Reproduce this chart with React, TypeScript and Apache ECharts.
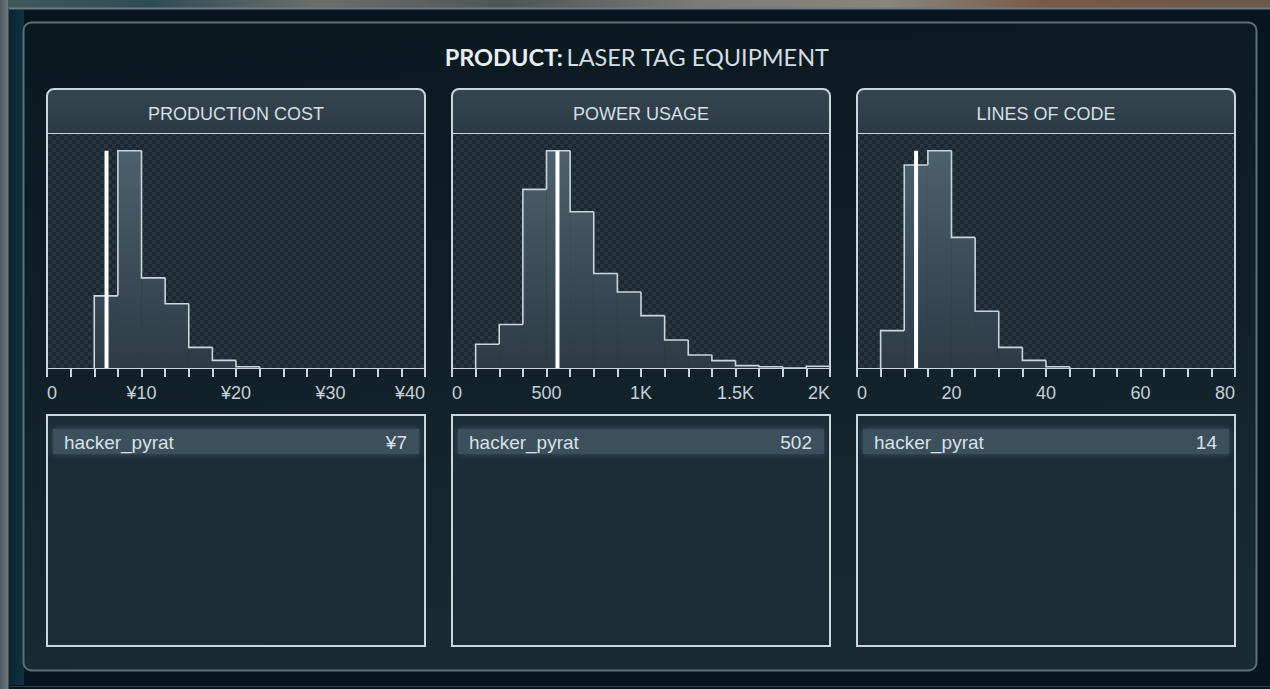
import React, { useEffect, useRef } from "react";
import * as echarts from "echarts";

// ---------- data ----------
const productLabel = "PRODUCT:";
const productName = "LASER TAG EQUIPMENT";
const panelTitles = ["PRODUCTION COST", "POWER USAGE", "LINES OF CODE"];

const costBinStarts = [5, 7.5, 10, 12.5, 15, 17.5, 20];
const costBinWidth = 2.5;
const costCounts = [33.2, 100, 41.5, 29.6, 9.5, 3.5, 0.6];
const costMarker = 6.3;
const costAxisMax = 40;
const costTickStep = 2.5;
const costLabelValues = [0, 10, 20, 30, 40];
const costLabelTexts = ["0", "¥10", "¥20", "¥30", "¥40"];

const powerBinStarts = [125, 250, 375, 500, 625, 750, 875, 1000, 1125, 1250, 1375, 1500, 1625, 1750, 1875];
const powerBinWidth = 125;
const powerCounts = [10.9, 20.0, 82.2, 100, 71.9, 43.5, 35.0, 24.1, 12.9, 6.0, 3.4, 1.1, 0.6, 0, 0.8];
const powerMarker = 558;
const powerAxisMax = 2000;
const powerTickStep = 125;
const powerLabelValues = [0, 500, 1000, 1500, 2000];
const powerLabelTexts = ["0", "500", "1K", "1.5K", "2K"];

const locBinStarts = [5, 10, 15, 20, 25, 30, 35, 40];
const locBinWidth = 5;
const locCounts = [17.2, 93.4, 100, 60.1, 26.1, 9.5, 3.5, 0.6];
const locMarker = 12.5;
const locAxisMax = 80;
const locTickStep = 5;
const locLabelValues = [0, 20, 40, 60, 80];
const locLabelTexts = ["0", "20", "40", "60", "80"];

const playerNames = ["hacker_pyrat", "hacker_pyrat", "hacker_pyrat"];
const playerValues = ["¥7", "502", "14"];

// ---------- layout ----------
const W = 1270;
const H = 689;
const PANEL_X = [47, 452, 857];
const PANEL_W = 378;
const HEADER_TOP = 89;
const GRID_TOP = 134;
const GRID_BOTTOM = 368;
const Y_MAX = 107.7;
const LINE = "#c9d6dc";
const FONT = "Liberation Sans";

function makeChecker(): string {
  const c = document.createElement("canvas");
  c.width = 8;
  c.height = 8;
  const ctx = c.getContext("2d");
  if (!ctx) return "";
  ctx.fillStyle = "#1c2830";
  ctx.fillRect(0, 0, 8, 8);
  ctx.fillStyle = "#28363f";
  ctx.fillRect(0, 0, 4, 4);
  ctx.fillRect(4, 4, 4, 4);
  return c.toDataURL();
}

export default function App() {
  const ref = useRef<HTMLDivElement>(null);

  useEffect(() => {
    if (!ref.current) return;
    const chart = echarts.init(ref.current, null, { renderer: "svg" });
    const checker = makeChecker();

    const panels = [
      { starts: costBinStarts, width: costBinWidth, counts: costCounts, marker: costMarker, max: costAxisMax, step: costTickStep, lv: costLabelValues, lt: costLabelTexts },
      { starts: powerBinStarts, width: powerBinWidth, counts: powerCounts, marker: powerMarker, max: powerAxisMax, step: powerTickStep, lv: powerLabelValues, lt: powerLabelTexts },
      { starts: locBinStarts, width: locBinWidth, counts: locCounts, marker: locMarker, max: locAxisMax, step: locTickStep, lv: locLabelValues, lt: locLabelTexts },
    ];

    const grids: any[] = [];
    const xAxes: any[] = [];
    const yAxes: any[] = [];
    const series: any[] = [];
    const graphics: any[] = [];

    // page background
    graphics.push(
      { type: "rect", z: 0, shape: { x: 0, y: 0, width: W, height: H }, style: { fill: "#07161e" } },
      {
        type: "rect", z: 0, shape: { x: 0, y: 0, width: W, height: 8 },
        style: {
          fill: new echarts.graphic.LinearGradient(0, 0, 1, 0, [
            { offset: 0, color: "#3f5a5c" }, { offset: 0.12, color: "#2e4c55" }, { offset: 0.25, color: "#6c6e6a" },
            { offset: 0.4, color: "#4f5556" }, { offset: 0.55, color: "#7b7b76" }, { offset: 0.7, color: "#8a857e" },
            { offset: 0.82, color: "#7a5a46" }, { offset: 1, color: "#6a584a" },
          ]),
        },
      },
      { type: "rect", z: 0, shape: { x: 0, y: 0, width: 8, height: H }, style: { fill: new echarts.graphic.LinearGradient(0, 0, 1, 0, [{ offset: 0, color: "#4a585f" }, { offset: 1, color: "#6b787e" }]) } },
      { type: "rect", z: 0, shape: { x: 9, y: 10, width: 15, height: 675 }, style: { fill: new echarts.graphic.LinearGradient(0, 0, 1, 0, [{ offset: 0, color: "#0c2431" }, { offset: 1, color: "#113242" }]) } },
      { type: "line", z: 0, shape: { x1: 8, y1: 8.5, x2: W, y2: 8.5 }, style: { stroke: "#6b7b82", lineWidth: 2 } },
      { type: "line", z: 0, shape: { x1: 8.5, y1: 8, x2: 8.5, y2: H }, style: { stroke: "#3e4e55", lineWidth: 1 } },
      { type: "line", z: 0, shape: { x1: 8, y1: 686.5, x2: W, y2: 686.5 }, style: { stroke: "#2c3e46", lineWidth: 1 } },
      {
        type: "rect", z: 0, shape: { x: 23.5, y: 22.5, width: 1233, height: 648, r: 8 },
        style: {
          fill: new echarts.graphic.LinearGradient(0, 0, 0.15, 1, [{ offset: 0, color: "#0a1820" }, { offset: 0.5, color: "#101f27" }, { offset: 1, color: "#182a33" }]),
          stroke: "#5a707a", lineWidth: 2,
        },
      },
      {
        type: "text", z: 5, x: 637, y: 57,
        style: {
          text: `{b|${productLabel}} {n|${productName}}`,
          align: "center", verticalAlign: "middle",
          rich: {
            b: { fontFamily: "Lato", fontSize: 23.5, fontWeight: "bold", fill: "#e8eef0", color: "#e8eef0" },
            n: { fontFamily: "Lato", fontSize: 23.5, fill: "#d4dde1", color: "#d4dde1" },
          },
        },
      }
    );

    panels.forEach((p, k) => {
      const px = PANEL_X[k];
      graphics.push(
        {
          type: "rect", z: 1, shape: { x: px, y: HEADER_TOP, width: PANEL_W, height: GRID_TOP - HEADER_TOP, r: [7, 7, 0, 0] },
          style: { fill: new echarts.graphic.LinearGradient(0, 0, 0, 1, [{ offset: 0, color: "#34454f" }, { offset: 1, color: "#2b3b45" }]), stroke: LINE, lineWidth: 2 },
        },
        {
          type: "text", z: 5, x: px + PANEL_W / 2, y: 113.5,
          style: { text: panelTitles[k], align: "center", verticalAlign: "middle", fontFamily: FONT, fontSize: 18, fill: "#d6dfe3" },
        },
        {
          type: "rect", z: 1, shape: { x: px, y: GRID_TOP, width: PANEL_W, height: GRID_BOTTOM - GRID_TOP },
          style: checker ? { fill: { image: checker, repeat: "repeat" } as any } : { fill: "#222f37" },
        },
        { type: "line", z: 4, shape: { x1: px, y1: GRID_TOP - 1, x2: px, y2: GRID_BOTTOM }, style: { stroke: LINE, lineWidth: 2 } },
        { type: "line", z: 4, shape: { x1: px + PANEL_W, y1: GRID_TOP - 1, x2: px + PANEL_W, y2: GRID_BOTTOM }, style: { stroke: LINE, lineWidth: 2 } },
        {
          type: "rect", z: 1, shape: { x: px, y: 415, width: PANEL_W, height: 231 },
          style: { fill: "#1b2c36", stroke: LINE, lineWidth: 2 },
        },
        {
          type: "rect", z: 2, shape: { x: px + 6, y: 429, width: PANEL_W - 12, height: 25 },
          style: { fill: "#3b4f5c", shadowBlur: 6, shadowColor: "rgba(120,160,180,0.35)" },
        },
        {
          type: "text", z: 5, x: px + 17, y: 442,
          style: { text: playerNames[k], align: "left", verticalAlign: "middle", fontFamily: FONT, fontSize: 19, fill: "#d8e1e5" },
        },
        {
          type: "text", z: 5, x: px + PANEL_W - 18, y: 442,
          style: { text: playerValues[k], align: "right", verticalAlign: "middle", fontFamily: FONT, fontSize: 19, fill: "#d8e1e5" },
        }
      );

      grids.push({ left: px, width: PANEL_W, top: GRID_TOP, height: GRID_BOTTOM - GRID_TOP, show: false, containLabel: false });
      xAxes.push({
        type: "value", gridIndex: k, min: 0, max: p.max, interval: p.step,
        axisLine: { show: true, lineStyle: { color: LINE, width: 2 } },
        axisTick: { show: true, length: 9, lineStyle: { color: LINE, width: 2 } },
        splitLine: { show: false },
        axisLabel: {
          show: true, margin: 16, color: "#c6d0d5", fontFamily: FONT, fontSize: 18,
          showMinLabel: true, showMaxLabel: true,
          alignMinLabel: "left", alignMaxLabel: "right",
          formatter: (v: number) => {
            const i = p.lv.findIndex((x) => Math.abs(x - v) < 1e-6);
            return i >= 0 ? p.lt[i] : "";
          },
        },
      });
      yAxes.push({ type: "value", gridIndex: k, min: 0, max: Y_MAX, show: false });

      const bins = p.starts.map((s, i) => [s, s + p.width, p.counts[i]]);
      series.push({
        type: "custom", xAxisIndex: k, yAxisIndex: k, z: 3, silent: true,
        encode: { x: [0, 1], y: 2 },
        data: bins,
        renderItem: (params: any, api: any) => {
          const i = params.dataIndex;
          const s = api.value(0);
          const e = api.value(1);
          const h = api.value(2);
          const prevH = i > 0 ? p.counts[i - 1] : 0;
          const base = api.coord([s, 0]);
          const tr = api.coord([e, h]);
          const prev = api.coord([s, prevH]);
          const top = api.coord([s, 100]);
          const grad = new echarts.graphic.LinearGradient(0, top[1], 0, base[1], [
            { offset: 0, color: "#4d606d" }, { offset: 1, color: "#2c3b46" },
          ], true);
          const children: any[] = [
            { type: "rect", shape: { x: base[0], y: tr[1], width: tr[0] - base[0], height: base[1] - tr[1] }, style: { fill: grad } },
            { type: "polyline", shape: { points: [[base[0], prev[1]], [base[0], tr[1]], [tr[0], tr[1]]] }, style: { stroke: LINE, lineWidth: 1.6, fill: null } },
          ];
          if (i === p.counts.length - 1) {
            children.push({ type: "line", shape: { x1: tr[0], y1: tr[1], x2: tr[0], y2: base[1] }, style: { stroke: LINE, lineWidth: 1.6 } });
          }
          return { type: "group", children };
        },
      });
      series.push({
        type: "custom", xAxisIndex: k, yAxisIndex: k, z: 4, silent: true,
        encode: { x: 0, y: 1 },
        data: [[p.marker, 100]],
        renderItem: (_params: any, api: any) => {
          const t = api.coord([api.value(0), api.value(1)]);
          const b = api.coord([api.value(0), 0]);
          return { type: "rect", shape: { x: t[0] - 2, y: t[1], width: 4, height: b[1] - t[1] }, style: { fill: "#ffffff" } };
        },
      });
    });

    chart.setOption({
      animation: false,
      backgroundColor: "#07161e",
      grid: grids,
      xAxis: xAxes,
      yAxis: yAxes,
      series,
      graphic: { elements: graphics },
    });

    return () => chart.dispose();
  }, []);

  return <div ref={ref} style={{ position: "fixed", left: 0, top: 0, width: W, height: H }} />;
}
